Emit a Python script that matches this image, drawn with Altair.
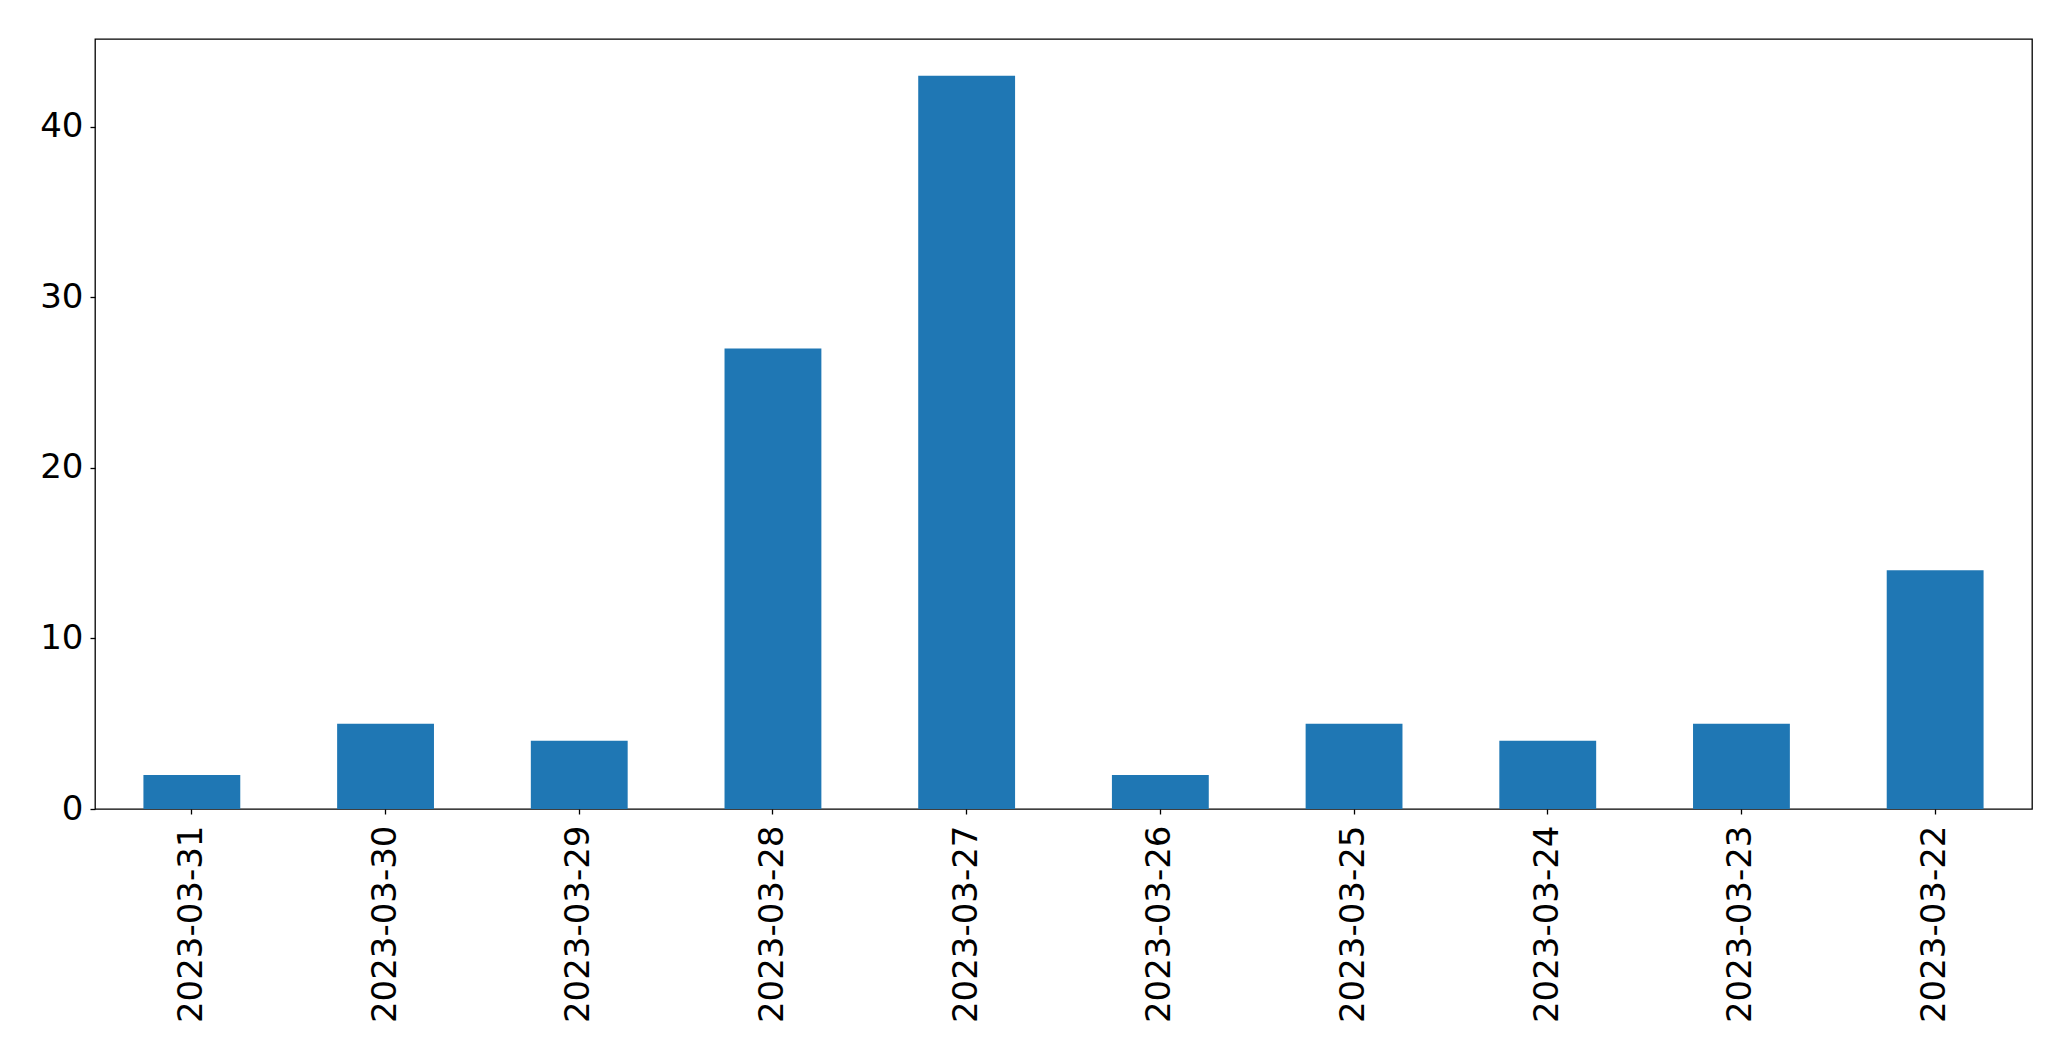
import altair as alt
import pandas as pd

dates = ["2023-03-31", "2023-03-30", "2023-03-29", "2023-03-28", "2023-03-27",
         "2023-03-26", "2023-03-25", "2023-03-24", "2023-03-23", "2023-03-22"]
counts = [2, 5, 4, 27, 43, 2, 5, 4, 5, 14]
y_ticks = [0, 10, 20, 30, 40]

df = pd.DataFrame({"date": dates, "count": counts})

chart = alt.Chart(df).mark_bar(color="#1f77b4").encode(
    x=alt.X("date:N", sort=None, title=None,
            scale=alt.Scale(paddingInner=0.5, paddingOuter=0.25),
            axis=alt.Axis(labelAngle=270, labelFont="DejaVu Sans", labelFontSize=34,
                          labelColor="black", tickColor="black", tickSize=5, tickWidth=1.3,
                          labelPadding=11, labelLimit=0, domain=False, grid=False)),
    y=alt.Y("count:Q", title=None,
            scale=alt.Scale(domain=[0, 45.15], nice=False, zero=True),
            axis=alt.Axis(values=y_ticks, labelFont="DejaVu Sans", labelFontSize=34,
                          labelColor="black", tickColor="black", tickSize=5, tickWidth=1.3,
                          labelPadding=7, labelLimit=0, domain=False, grid=False)),
).properties(
    width=1937, height=770,
    autosize=alt.AutoSizeParams(type="none"),
    padding={"left": 87, "top": 31, "right": 30, "bottom": 240},
    background="white",
).configure_view(
    stroke="black", strokeWidth=1.3
)

chart.save("out.html", embed_options={"renderer": "svg", "actions": False})
